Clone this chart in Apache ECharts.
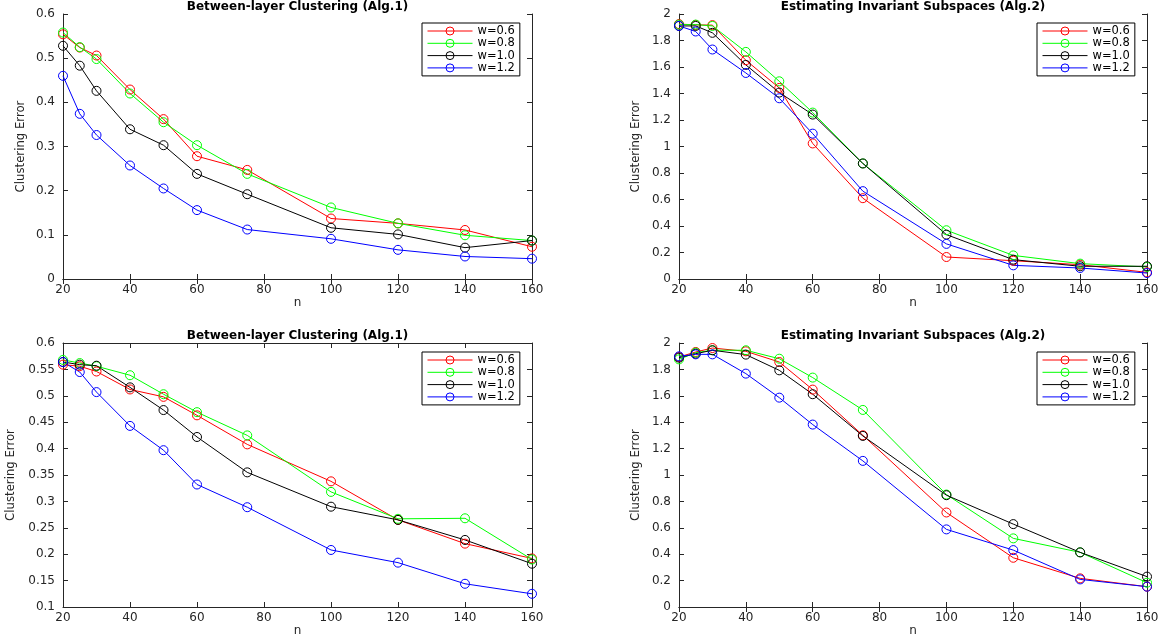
<!DOCTYPE html>
<html>
<head>
<meta charset="utf-8">
<script src="https://cdn.jsdelivr.net/npm/echarts@6/dist/echarts.min.js"></script>
<style>
html,body{margin:0;padding:0;background:#fff;}
#charts{width:1163px;height:644px;}
</style>
</head>
<body>
<div id="charts"></div>
<script>
//横轴 n
var nList = [20, 25, 30, 40, 50, 60, 75, 100, 120, 140, 160];
var names = ['w=0.6', 'w=0.8', 'w=1.0', 'w=1.2'];
var colors = ['#ff0000', '#00ff00', '#000000', '#0000ff'];

//左上 Between-layer Clustering (Alg.1)
var tlW06 = [0.554, 0.524, 0.506, 0.429, 0.362, 0.278, 0.247, 0.137, 0.126, 0.111, 0.073];
var tlW08 = [0.558, 0.525, 0.498, 0.420, 0.355, 0.303, 0.238, 0.162, 0.126, 0.099, 0.087];
var tlW10 = [0.528, 0.483, 0.426, 0.339, 0.303, 0.238, 0.192, 0.116, 0.101, 0.071, 0.087];
var tlW12 = [0.460, 0.374, 0.326, 0.257, 0.205, 0.156, 0.112, 0.091, 0.066, 0.051, 0.046];

//右上 Estimating Invariant Subspaces (Alg.2)
var trW06 = [1.924, 1.918, 1.916, 1.651, 1.442, 1.023, 0.610, 0.166, 0.138, 0.108, 0.050];
var trW08 = [1.920, 1.920, 1.910, 1.714, 1.492, 1.256, 0.872, 0.368, 0.178, 0.116, 0.091];
var trW10 = [1.910, 1.910, 1.858, 1.616, 1.407, 1.241, 0.872, 0.335, 0.146, 0.096, 0.096];
var trW12 = [1.910, 1.868, 1.732, 1.555, 1.364, 1.097, 0.663, 0.265, 0.103, 0.083, 0.045];

//左下 Between-layer Clustering (Alg.1)
var blW06 = [0.559, 0.556, 0.546, 0.512, 0.498, 0.463, 0.408, 0.338, 0.265, 0.220, 0.192];
var blW08 = [0.568, 0.562, 0.556, 0.539, 0.503, 0.469, 0.425, 0.318, 0.267, 0.268, 0.190];
var blW10 = [0.564, 0.559, 0.557, 0.516, 0.473, 0.422, 0.355, 0.290, 0.265, 0.227, 0.182];
var blW12 = [0.564, 0.545, 0.507, 0.443, 0.397, 0.332, 0.289, 0.208, 0.184, 0.144, 0.125];

//右下 Estimating Invariant Subspaces (Alg.2)
var brW06 = [1.894, 1.932, 1.962, 1.937, 1.856, 1.647, 1.301, 0.716, 0.373, 0.217, 0.154];
var brW08 = [1.876, 1.927, 1.945, 1.945, 1.881, 1.738, 1.493, 0.852, 0.520, 0.414, 0.184];
var brW10 = [1.889, 1.919, 1.945, 1.912, 1.793, 1.612, 1.296, 0.847, 0.628, 0.414, 0.230];
var brW12 = [1.899, 1.914, 1.914, 1.768, 1.586, 1.382, 1.107, 0.588, 0.431, 0.209, 0.154];

var titleAlg1 = 'Between-layer Clustering (Alg.1)';
var titleAlg2 = 'Estimating Invariant Subspaces (Alg.2)';

//四个子图
var panels = [
	{title: titleAlg1, left: 63,  top: 14,  width: 469, height: 265, ymin: 0,   ymax: 0.6, step: 0.1,  yGap: 36, data: [tlW06, tlW08, tlW10, tlW12]},
	{title: titleAlg2, left: 679, top: 14,  width: 468, height: 265, ymin: 0,   ymax: 2,   step: 0.2,  yGap: 37, data: [trW06, trW08, trW10, trW12]},
	{title: titleAlg1, left: 63,  top: 343, width: 469, height: 264, ymin: 0.1, ymax: 0.6, step: 0.05, yGap: 46, data: [blW06, blW08, blW10, blW12]},
	{title: titleAlg2, left: 679, top: 343, width: 468, height: 264, ymin: 0,   ymax: 2,   step: 0.2,  yGap: 37, data: [brW06, brW08, brW10, brW12]}
];

var axisColor = '#262626';
var tickFont = 'DejaVu Sans';
var labelFont = "'DejaVu Sans Condensed', 'Liberation Sans', sans-serif";

function toPairs(arr){
	var out = [];
	for(var i=0;i<nList.length;i++){
		out.push([nList[i], arr[i]]);
	}
	return out;
}

var titles = [], grids = [], xAxes = [], yAxes = [], legends = [], series = [];
for(var p=0;p<panels.length;p++){
	var pn = panels[p];
	titles.push({
		text: pn.title,
		left: pn.left + pn.width / 2,
		top: pn.top - 13,
		textAlign: 'center',
		padding: 0,
		textStyle: {fontFamily: tickFont, fontWeight: 'bold', fontSize: 12, color: '#000'}
	});
	grids.push({left: pn.left, top: pn.top, width: pn.width, height: pn.height});
	//下方x轴
	xAxes.push({
		type: 'value', gridIndex: p, position: 'bottom',
		min: 20, max: 160, interval: 20,
		name: 'n', nameLocation: 'middle', nameGap: 18,
		nameTextStyle: {fontFamily: tickFont, fontSize: 12, color: axisColor},
		axisLine: {show: true, lineStyle: {color: axisColor, width: 1}},
		axisTick: {show: true, inside: true, length: 5, lineStyle: {color: axisColor}},
		axisLabel: {margin: 5, fontFamily: tickFont, fontSize: 12, color: axisColor},
		splitLine: {show: false}
	});
	//上方x轴(只画刻度)
	xAxes.push({
		type: 'value', gridIndex: p, position: 'top',
		min: 20, max: 160, interval: 20,
		axisLine: {show: true, lineStyle: {color: axisColor, width: 1}},
		axisTick: {show: true, inside: true, length: 5, lineStyle: {color: axisColor}},
		axisLabel: {show: false},
		splitLine: {show: false}
	});
	//左侧y轴
	yAxes.push({
		type: 'value', gridIndex: p, position: 'left',
		min: pn.ymin, max: pn.ymax, interval: pn.step,
		name: 'Clustering Error', nameLocation: 'middle', nameGap: pn.yGap,
		nameTextStyle: {fontFamily: labelFont, fontSize: 13, color: axisColor},
		axisLine: {show: true, lineStyle: {color: axisColor, width: 1}},
		axisTick: {show: true, inside: true, length: 5, lineStyle: {color: axisColor}},
		axisLabel: {margin: 8, fontFamily: tickFont, fontSize: 12, color: axisColor},
		splitLine: {show: false}
	});
	//右侧y轴(只画刻度)
	yAxes.push({
		type: 'value', gridIndex: p, position: 'right',
		min: pn.ymin, max: pn.ymax, interval: pn.step,
		axisLine: {show: true, lineStyle: {color: axisColor, width: 1}},
		axisTick: {show: true, inside: true, length: 5, lineStyle: {color: axisColor}},
		axisLabel: {show: false},
		splitLine: {show: false}
	});
	legends.push({
		data: names,
		orient: 'vertical',
		left: pn.left + pn.width - 110,
		top: pn.top + 9,
		itemWidth: 45,
		itemHeight: 10,
		itemGap: 0.3,
		padding: [2, 5, 2, 5],
		borderColor: '#000',
		borderWidth: 1,
		backgroundColor: '#fff',
		selectedMode: false,
		lineStyle: {width: 1},
		itemStyle: {borderWidth: 1},
		textStyle: {fontFamily: tickFont, fontSize: 11.5, lineHeight: 12, color: '#000'}
	});
	for(var s=0;s<names.length;s++){
		series.push({
			name: names[s],
			type: 'line',
			xAxisIndex: p * 2,
			yAxisIndex: p * 2,
			data: toPairs(pn.data[s]),
			symbol: 'circle',
			symbolSize: 9,
			showAllSymbol: true,
			lineStyle: {color: colors[s], width: 1},
			itemStyle: {color: 'rgba(0,0,0,0)', borderColor: colors[s], borderWidth: 1},
			emphasis: {disabled: true}
		});
	}
}

var charts = echarts.init(document.getElementById('charts'));
var option = {
	animation: false,
	backgroundColor: '#fff',
	title: titles,
	grid: grids,
	xAxis: xAxes,
	yAxis: yAxes,
	legend: legends,
	series: series
};
charts.setOption(option);
</script>
</body>
</html>
